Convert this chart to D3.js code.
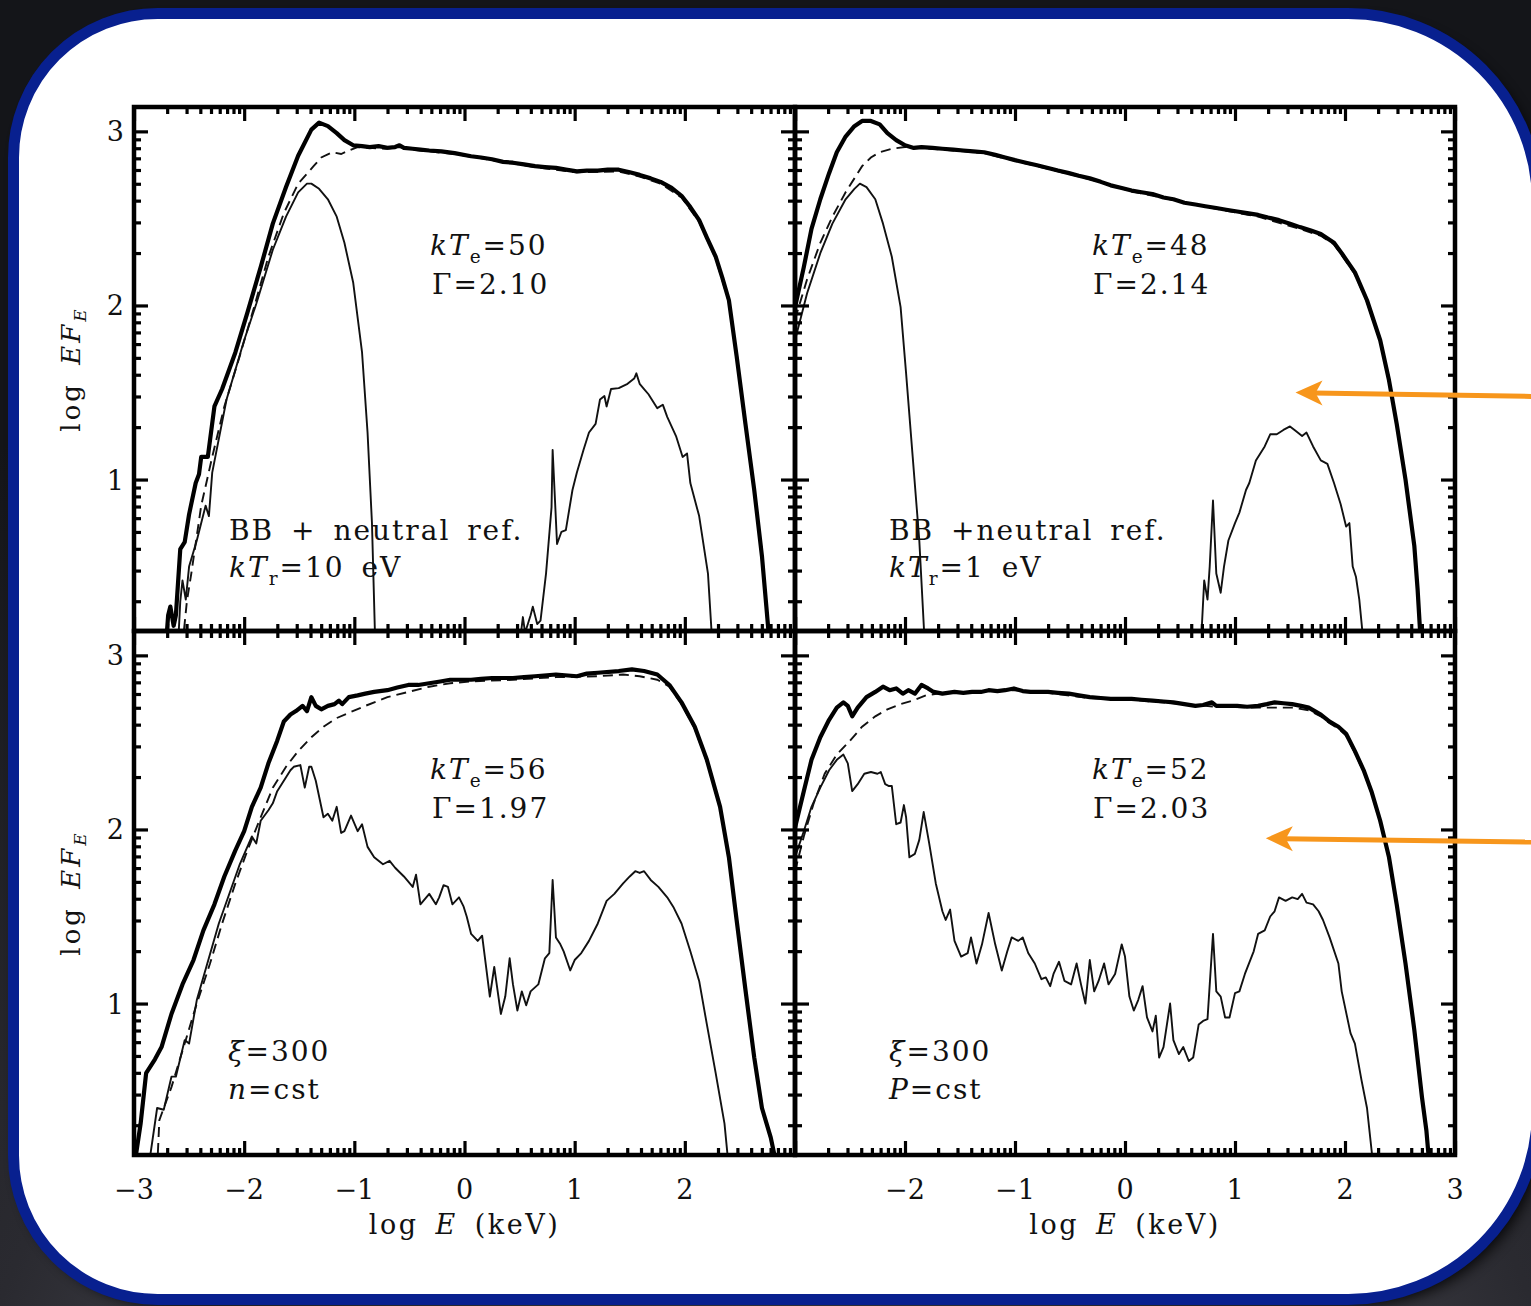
<!DOCTYPE html>
<html>
<head>
<meta charset="utf-8">
<script src="https://d3js.org/d3.v7.min.js"></script>
<style>
  html, body { margin: 0; padding: 0; background: #16171b; }
  svg { display: block; }
  text { font-family: "DejaVu Serif", "Liberation Serif", serif; fill: #111; }
</style>
</head>
<body>
<svg id="chart" width="1531" height="1306"></svg>
<script>
// ---- data: [log E (keV), log EF_E] ----
// top left: BB kTr=10 eV + neutral reflection
const tlTotal = [[-2.71,0.05],[-2.69,0.22],[-2.67,0.27],[-2.64,0.16],[-2.62,0.22],[-2.58,0.60],[-2.54,0.64],[-2.50,0.80],[-2.44,0.98],[-2.41,1.03],[-2.39,1.13],[-2.33,1.13],[-2.27,1.42],[-2.20,1.52],[-2.08,1.73],[-1.97,1.96],[-1.85,2.22],[-1.74,2.47],[-1.62,2.68],[-1.51,2.86],[-1.39,3.01],[-1.32,3.05],[-1.24,3.03],[-1.16,2.99],[-1.09,2.95],[-1.01,2.92],[-0.93,2.915],[-0.86,2.91],[-0.78,2.915],[-0.70,2.906],[-0.63,2.91],[-0.59,2.92],[-0.55,2.905],[-0.47,2.90],[-0.40,2.895],[-0.32,2.89],[-0.21,2.885],[-0.09,2.875],[0.06,2.857],[0.15,2.85],[0.25,2.84],[0.35,2.825],[0.44,2.82],[0.54,2.81],[0.64,2.80],[0.73,2.795],[0.83,2.79],[0.92,2.78],[1.02,2.77],[1.11,2.775],[1.21,2.775],[1.30,2.78],[1.40,2.78],[1.50,2.765],[1.59,2.75],[1.69,2.73],[1.78,2.71],[1.88,2.675],[1.97,2.63],[2.05,2.565],[2.13,2.49],[2.20,2.39],[2.28,2.28],[2.34,2.16],[2.40,2.03],[2.47,1.71],[2.55,1.32],[2.63,0.94],[2.70,0.56],[2.74,0.27],[2.77,0.05]];
const tlCont = [[-2.56,0.05],[-2.52,0.30],[-2.48,0.46],[-2.39,0.85],[-2.29,1.13],[-2.18,1.42],[-2.04,1.71],[-1.91,1.99],[-1.78,2.28],[-1.64,2.53],[-1.51,2.70],[-1.37,2.80],[-1.30,2.85],[-1.20,2.88],[-1.12,2.87],[-1.05,2.89],[-0.97,2.91],[-0.86,2.905],[-0.70,2.90],[-0.59,2.91],[-0.47,2.895],[-0.32,2.885],[-0.09,2.87],[0.25,2.835],[0.64,2.795],[1.02,2.765],[1.40,2.77],[1.59,2.74],[1.78,2.70],[1.97,2.62],[2.13,2.48],[2.28,2.27],[2.40,2.02],[2.47,1.70],[2.55,1.31],[2.63,0.93],[2.70,0.55],[2.74,0.26],[2.76,0.05]];
const tlBB = [[-2.60,0.05],[-2.58,0.30],[-2.56,0.42],[-2.53,0.31],[-2.50,0.50],[-2.43,0.65],[-2.35,0.85],[-2.32,0.79],[-2.29,1.04],[-2.16,1.46],[-2.00,1.80],[-1.89,2.01],[-1.74,2.32],[-1.62,2.51],[-1.51,2.65],[-1.43,2.70],[-1.39,2.70],[-1.32,2.67],[-1.24,2.61],[-1.16,2.51],[-1.09,2.36],[-1.01,2.13],[-0.93,1.73],[-0.88,1.27],[-0.84,0.75],[-0.81,0.05]];
const tlRefl = [[0.50,0.05],[0.53,0.21],[0.55,0.12],[0.60,0.22],[0.62,0.27],[0.66,0.17],[0.69,0.19],[0.74,0.46],[0.79,0.84],[0.80,1.17],[0.84,0.63],[0.88,0.70],[0.92,0.71],[0.98,0.94],[1.02,1.04],[1.08,1.17],[1.13,1.27],[1.19,1.32],[1.23,1.46],[1.27,1.48],[1.29,1.42],[1.33,1.52],[1.40,1.525],[1.48,1.55],[1.54,1.58],[1.56,1.61],[1.59,1.55],[1.63,1.52],[1.67,1.49],[1.75,1.41],[1.80,1.43],[1.84,1.36],[1.92,1.25],[1.98,1.13],[2.02,1.15],[2.05,0.98],[2.13,0.79],[2.21,0.46],[2.25,0.05]];

// top right: BB kTr=1 eV + neutral reflection
const trTotal = [[-3.00,1.99],[-2.92,2.22],[-2.85,2.44],[-2.77,2.61],[-2.69,2.76],[-2.62,2.88],[-2.54,2.97],[-2.46,3.03],[-2.39,3.06],[-2.31,3.06],[-2.23,3.04],[-2.16,2.99],[-2.08,2.95],[-2.00,2.92],[-1.92,2.905],[-1.85,2.91],[-1.75,2.905],[-1.66,2.90],[-1.56,2.895],[-1.47,2.89],[-1.38,2.885],[-1.28,2.88],[-1.18,2.865],[-1.09,2.85],[-1.00,2.835],[-0.90,2.82],[-0.80,2.805],[-0.70,2.79],[-0.61,2.775],[-0.51,2.76],[-0.42,2.745],[-0.32,2.73],[-0.22,2.71],[-0.13,2.69],[-0.03,2.675],[0.06,2.66],[0.15,2.65],[0.25,2.64],[0.35,2.62],[0.44,2.61],[0.54,2.59],[0.64,2.58],[0.73,2.57],[0.83,2.56],[0.92,2.55],[1.02,2.54],[1.11,2.53],[1.21,2.52],[1.30,2.505],[1.40,2.49],[1.50,2.47],[1.59,2.45],[1.69,2.43],[1.78,2.41],[1.90,2.36],[1.97,2.30],[2.09,2.19],[2.20,2.03],[2.32,1.80],[2.40,1.57],[2.47,1.32],[2.55,1.00],[2.63,0.62],[2.66,0.37],[2.69,0.05]];
const trCont = [[-3.00,1.92],[-2.89,2.15],[-2.77,2.36],[-2.66,2.51],[-2.54,2.65],[-2.46,2.73],[-2.39,2.80],[-2.31,2.85],[-2.23,2.88],[-2.12,2.90],[-2.00,2.91],[-1.85,2.905],[-1.66,2.895],[-1.47,2.885],[-1.28,2.875],[-1.09,2.845],[-0.70,2.785],[-0.32,2.725],[0.06,2.655],[0.44,2.605],[0.83,2.555],[1.21,2.51],[1.59,2.44],[1.78,2.40],[1.90,2.35],[1.97,2.29],[2.09,2.18],[2.20,2.02],[2.32,1.79],[2.40,1.56],[2.47,1.31],[2.55,0.99],[2.63,0.61],[2.66,0.36],[2.69,0.05]];
const trBB = [[-3.00,1.80],[-2.89,2.07],[-2.77,2.30],[-2.66,2.47],[-2.54,2.61],[-2.46,2.67],[-2.41,2.70],[-2.35,2.68],[-2.27,2.61],[-2.20,2.47],[-2.12,2.28],[-2.04,1.99],[-1.99,1.61],[-1.93,1.13],[-1.87,0.65],[-1.82,0.05]];
const trRefl = [[0.69,0.05],[0.72,0.42],[0.75,0.31],[0.77,0.50],[0.80,0.88],[0.83,0.46],[0.87,0.35],[0.90,0.50],[0.94,0.65],[1.00,0.75],[1.04,0.81],[1.10,0.94],[1.13,0.98],[1.19,1.11],[1.23,1.15],[1.27,1.19],[1.32,1.26],[1.38,1.26],[1.44,1.285],[1.50,1.305],[1.55,1.28],[1.61,1.25],[1.65,1.27],[1.71,1.19],[1.78,1.11],[1.84,1.09],[1.90,0.98],[1.96,0.86],[2.01,0.73],[2.04,0.75],[2.07,0.50],[2.10,0.44],[2.13,0.31],[2.17,0.05]];

// bottom left: ionised reflection, xi=300, n=cst
const blTotal = [[-2.99,0.05],[-2.98,0.14],[-2.94,0.31],[-2.89,0.60],[-2.81,0.68],[-2.75,0.75],[-2.66,0.94],[-2.56,1.11],[-2.46,1.25],[-2.37,1.42],[-2.27,1.57],[-2.18,1.73],[-2.08,1.88],[-2.00,1.99],[-1.93,2.13],[-1.85,2.24],[-1.78,2.38],[-1.70,2.51],[-1.64,2.62],[-1.58,2.66],[-1.53,2.68],[-1.47,2.71],[-1.43,2.68],[-1.39,2.76],[-1.35,2.71],[-1.30,2.69],[-1.24,2.71],[-1.18,2.72],[-1.14,2.74],[-1.11,2.72],[-1.05,2.76],[-0.97,2.77],[-0.90,2.78],[-0.82,2.79],[-0.70,2.80],[-0.61,2.815],[-0.51,2.83],[-0.42,2.83],[-0.32,2.84],[-0.22,2.85],[-0.13,2.86],[0.06,2.86],[0.15,2.865],[0.25,2.87],[0.44,2.87],[0.54,2.875],[0.64,2.88],[0.83,2.89],[1.02,2.88],[1.11,2.895],[1.21,2.90],[1.40,2.91],[1.52,2.92],[1.63,2.91],[1.75,2.89],[1.86,2.83],[1.97,2.73],[2.09,2.59],[2.20,2.40],[2.32,2.13],[2.40,1.84],[2.47,1.48],[2.55,1.08],[2.63,0.69],[2.70,0.40],[2.78,0.23],[2.84,0.05]];
const blCont = [[-2.79,0.05],[-2.77,0.33],[-2.66,0.52],[-2.54,0.77],[-2.43,1.00],[-2.31,1.23],[-2.20,1.46],[-2.08,1.69],[-1.97,1.88],[-1.85,2.07],[-1.74,2.24],[-1.62,2.36],[-1.51,2.45],[-1.39,2.53],[-1.28,2.59],[-1.16,2.64],[-1.05,2.67],[-0.90,2.71],[-0.70,2.76],[-0.51,2.79],[-0.32,2.82],[-0.13,2.84],[0.06,2.85],[0.44,2.86],[0.83,2.875],[1.21,2.88],[1.44,2.89],[1.59,2.88],[1.75,2.86],[1.86,2.82],[1.97,2.72],[2.09,2.58],[2.20,2.39],[2.32,2.12],[2.40,1.83],[2.47,1.47],[2.55,1.07],[2.63,0.68],[2.70,0.39],[2.78,0.22],[2.84,0.05]];
const blRefl = [[-2.87,0.05],[-2.79,0.40],[-2.73,0.39],[-2.66,0.58],[-2.62,0.58],[-2.54,0.79],[-2.50,0.77],[-2.43,1.02],[-2.23,1.46],[-2.04,1.80],[-1.93,1.96],[-1.89,1.92],[-1.85,2.05],[-1.78,2.11],[-1.74,2.15],[-1.70,2.22],[-1.62,2.30],[-1.58,2.34],[-1.55,2.36],[-1.49,2.37],[-1.45,2.24],[-1.41,2.36],[-1.39,2.36],[-1.35,2.28],[-1.28,2.07],[-1.24,2.09],[-1.20,2.05],[-1.16,2.13],[-1.12,1.98],[-1.09,1.99],[-1.03,2.08],[-0.97,1.99],[-0.93,2.03],[-0.88,1.90],[-0.82,1.84],[-0.74,1.80],[-0.68,1.82],[-0.63,1.78],[-0.55,1.73],[-0.47,1.67],[-0.44,1.74],[-0.40,1.57],[-0.32,1.63],[-0.26,1.57],[-0.23,1.61],[-0.19,1.68],[-0.15,1.67],[-0.11,1.57],[-0.05,1.61],[-0.01,1.56],[0.02,1.50],[0.06,1.40],[0.12,1.36],[0.16,1.39],[0.20,1.19],[0.23,1.04],[0.27,1.21],[0.33,0.94],[0.37,1.04],[0.41,1.26],[0.44,1.11],[0.48,0.96],[0.52,1.07],[0.56,0.99],[0.60,1.07],[0.67,1.11],[0.73,1.26],[0.77,1.29],[0.80,1.71],[0.83,1.38],[0.87,1.34],[0.90,1.30],[0.96,1.19],[1.00,1.25],[1.06,1.29],[1.13,1.36],[1.21,1.46],[1.29,1.59],[1.36,1.63],[1.44,1.69],[1.50,1.73],[1.55,1.76],[1.59,1.75],[1.63,1.76],[1.69,1.71],[1.76,1.67],[1.84,1.61],[1.90,1.55],[1.97,1.46],[2.05,1.30],[2.13,1.13],[2.20,0.88],[2.28,0.60],[2.36,0.31],[2.40,0.05]];

// bottom right: ionised reflection, xi=300, P=cst
const brTotal = [[-3.00,2.01],[-2.92,2.22],[-2.85,2.40],[-2.77,2.53],[-2.69,2.63],[-2.62,2.70],[-2.56,2.73],[-2.52,2.71],[-2.48,2.65],[-2.43,2.70],[-2.35,2.76],[-2.27,2.79],[-2.20,2.82],[-2.14,2.80],[-2.08,2.81],[-2.02,2.78],[-1.97,2.80],[-1.91,2.78],[-1.85,2.83],[-1.79,2.81],[-1.74,2.79],[-1.66,2.78],[-1.55,2.79],[-1.47,2.785],[-1.39,2.79],[-1.31,2.79],[-1.24,2.80],[-1.16,2.795],[-1.09,2.80],[-1.01,2.81],[-0.93,2.795],[-0.86,2.79],[-0.78,2.79],[-0.70,2.79],[-0.61,2.785],[-0.51,2.78],[-0.42,2.77],[-0.32,2.76],[-0.22,2.755],[-0.13,2.75],[-0.03,2.75],[0.06,2.75],[0.15,2.745],[0.25,2.74],[0.35,2.735],[0.44,2.73],[0.54,2.72],[0.64,2.71],[0.71,2.715],[0.79,2.73],[0.83,2.71],[0.92,2.71],[1.02,2.71],[1.11,2.705],[1.21,2.71],[1.29,2.72],[1.36,2.73],[1.44,2.725],[1.52,2.72],[1.60,2.71],[1.67,2.70],[1.78,2.66],[1.86,2.62],[1.94,2.59],[2.01,2.55],[2.09,2.45],[2.17,2.34],[2.24,2.22],[2.32,2.05],[2.40,1.84],[2.47,1.57],[2.55,1.23],[2.63,0.85],[2.70,0.46],[2.74,0.27],[2.77,0.05]];
const brCont = [[-3.00,1.76],[-2.92,1.96],[-2.83,2.15],[-2.73,2.32],[-2.62,2.43],[-2.50,2.51],[-2.39,2.59],[-2.27,2.65],[-2.16,2.69],[-2.04,2.72],[-1.93,2.74],[-1.81,2.77],[-1.70,2.78],[-1.55,2.785],[-1.39,2.785],[-1.24,2.795],[-1.01,2.80],[-0.70,2.785],[-0.32,2.755],[0.06,2.745],[0.44,2.725],[0.83,2.705],[1.21,2.70],[1.52,2.70],[1.67,2.685],[1.78,2.65],[1.86,2.61],[1.94,2.58],[2.01,2.54],[2.09,2.44],[2.17,2.33],[2.24,2.21],[2.32,2.04],[2.40,1.83],[2.47,1.56],[2.55,1.22],[2.63,0.84],[2.70,0.45],[2.74,0.26],[2.77,0.05]];
const brRefl = [[-3.00,1.84],[-2.92,1.99],[-2.85,2.13],[-2.77,2.24],[-2.69,2.34],[-2.62,2.40],[-2.56,2.43],[-2.52,2.38],[-2.48,2.22],[-2.43,2.26],[-2.37,2.32],[-2.31,2.33],[-2.25,2.32],[-2.22,2.33],[-2.18,2.26],[-2.15,2.25],[-2.12,2.25],[-2.08,2.03],[-2.04,2.04],[-2.01,2.14],[-1.99,2.07],[-1.96,1.84],[-1.91,1.86],[-1.87,1.94],[-1.83,2.10],[-1.78,1.92],[-1.72,1.69],[-1.66,1.53],[-1.63,1.48],[-1.59,1.54],[-1.55,1.36],[-1.49,1.27],[-1.43,1.29],[-1.40,1.38],[-1.35,1.23],[-1.30,1.34],[-1.24,1.52],[-1.18,1.34],[-1.12,1.19],[-1.07,1.30],[-1.03,1.38],[-0.97,1.36],[-0.93,1.38],[-0.88,1.29],[-0.82,1.23],[-0.76,1.14],[-0.72,1.15],[-0.68,1.10],[-0.65,1.17],[-0.60,1.24],[-0.55,1.13],[-0.49,1.11],[-0.44,1.23],[-0.40,1.11],[-0.36,1.00],[-0.32,1.25],[-0.28,1.07],[-0.24,1.13],[-0.19,1.23],[-0.15,1.11],[-0.09,1.17],[-0.03,1.34],[0.00,1.27],[0.04,1.04],[0.08,0.96],[0.12,1.02],[0.16,1.10],[0.20,0.92],[0.25,0.84],[0.28,0.93],[0.31,0.69],[0.35,0.75],[0.41,1.00],[0.44,0.79],[0.49,0.71],[0.53,0.75],[0.58,0.67],[0.62,0.69],[0.67,0.88],[0.71,0.90],[0.75,0.91],[0.80,1.40],[0.83,1.07],[0.87,1.04],[0.91,0.92],[0.95,0.92],[1.00,1.06],[1.04,1.07],[1.09,1.17],[1.17,1.30],[1.21,1.40],[1.27,1.42],[1.32,1.50],[1.36,1.53],[1.40,1.61],[1.46,1.59],[1.52,1.61],[1.57,1.60],[1.61,1.63],[1.65,1.58],[1.71,1.57],[1.76,1.53],[1.80,1.48],[1.86,1.38],[1.94,1.23],[1.97,1.07],[2.05,0.83],[2.09,0.77],[2.15,0.56],[2.20,0.40],[2.26,0.05]];

// axes
const xDomain = [-3, 3];
const yDomain = [0.13, 3.14];
const xMajor = [-3, -2, -1, 0, 1, 2, 3];
const yMajor = [1, 2, 3];
const xLabelsLeft = [-3, -2, -1, 0, 1, 2];
const xLabelsRight = [-2, -1, 0, 1, 2, 3];
const yLabels = [1, 2, 3];

// annotation lines per panel: [dx, dy, parts]; part = [text, style]
const notesTL = [[296,148,[["k","i"],["T","i"],["e","sub"],["=50"]]],[298,187,[["\u0393=2.10"]]],
                 [95,433,[["BB + neutral ref."]]],[95,470,[["k","i"],["T","i"],["r","sub"],["=10 eV"]]]];
const notesTR = [[297,148,[["k","i"],["T","i"],["e","sub"],["=48"]]],[298,187,[["\u0393=2.14"]]],
                 [94,433,[["BB +neutral ref."]]],[94,470,[["k","i"],["T","i"],["r","sub"],["=1 eV"]]]];
const notesBL = [[296,148,[["k","i"],["T","i"],["e","sub"],["=56"]]],[298,187,[["\u0393=1.97"]]],
                 [94,430,[["\u03be","i"],["=300"]]],[94,468,[["n","i"],["=cst"]]]];
const notesBR = [[297,148,[["k","i"],["T","i"],["e","sub"],["=52"]]],[298,187,[["\u0393=2.03"]]],
                 [94,430,[["\u03be","i"],["=300"]]],[94,468,[["P","i"],["=cst"]]]];

const svg = d3.select("#chart");
const defs = svg.append("defs");

// --- backdrop & card ---
const bg = defs.append("radialGradient").attr("id", "bg")
  .attr("cx", "0.5").attr("cy", "1.15").attr("r", "0.95");
bg.append("stop").attr("offset", "0").attr("stop-color", "#6a6a76");
bg.append("stop").attr("offset", "0.55").attr("stop-color", "#2a2a30");
bg.append("stop").attr("offset", "1").attr("stop-color", "#141519");
svg.append("rect").attr("width", 1531).attr("height", 1306).attr("fill", "url(#bg)");

// card outline: small corners on the left, wider ones on the right (cut by the frame)
function cardPath(l, t, r, b, rl, rr) {
  const p = d3.path();
  p.moveTo(l + rl, t);
  p.lineTo(r - rr, t);
  p.arcTo(r, t, r, t + rr, rr);
  p.lineTo(r, b - rr);
  p.arcTo(r, b, r - rr, b, rr);
  p.lineTo(l + rl, b);
  p.arcTo(l, b, l, b - rl, rl);
  p.lineTo(l, t + rl);
  p.arcTo(l, t, l + rl, t, rl);
  p.closePath();
  return p.toString();
}
const blur = defs.append("filter").attr("id", "shadow").attr("x", "-5%").attr("y", "-5%")
  .attr("width", "110%").attr("height", "110%");
blur.append("feGaussianBlur").attr("stdDeviation", 7);
svg.append("path").attr("d", cardPath(18, 20, 1545, 1306, 150, 190))
  .attr("fill", "#000").attr("opacity", 0.85).attr("filter", "url(#shadow)");
svg.append("path").attr("d", cardPath(13.5, 13.5, 1537.5, 1299.5, 144, 189))
  .attr("fill", "#fff").attr("stroke", "#08208f").attr("stroke-width", 11);

// --- panels ---
const panels = [
  {x0: 134, y0: 107, w: 661, h: 524, total: tlTotal, cont: tlCont, thin: [tlBB, tlRefl], notes: notesTL, yl: true},
  {x0: 795, y0: 107, w: 660, h: 524, total: trTotal, cont: trCont, thin: [trBB, trRefl], notes: notesTR},
  {x0: 134, y0: 631, w: 661, h: 524, total: blTotal, cont: blCont, thin: [blRefl], notes: notesBL, yl: true, xl: xLabelsLeft},
  {x0: 795, y0: 631, w: 660, h: 524, total: brTotal, cont: brCont, thin: [brRefl], notes: notesBR, xl: xLabelsRight}
];

const xMinor = [];
for (let d = -3; d < 3; d++) for (let k = 2; k <= 9; k++) xMinor.push(d + Math.log10(k));
const yMinor = [];
for (let d = 0; d < 3; d++) for (let k = 2; k <= 9; k++) {
  const v = d + Math.log10(k);
  if (v > yDomain[0] && v < yDomain[1]) yMinor.push(v);
}

function addText(g, x, y, parts, size) {
  const t = g.append("text").attr("x", x).attr("y", y).attr("font-size", size)
    .attr("letter-spacing", 2).attr("word-spacing", 6).style("white-space", "pre");
  let shift = 0;
  parts.forEach(p => {
    const s = t.append("tspan").text(p[0]);
    if (p[1] === "i") s.attr("font-style", "italic");
    if (p[1] === "sub") {
      s.attr("font-size", size * 0.66).attr("dy", size * 0.3 - shift);
      shift = size * 0.3;
    } else if (shift) {
      s.attr("dy", -shift);
      shift = 0;
    }
  });
  return t;
}

panels.forEach((p, i) => {
  const g = svg.append("g").attr("transform", `translate(${p.x0},${p.y0})`);
  const x = d3.scaleLinear().domain(xDomain).range([0, p.w]);
  const y = d3.scaleLinear().domain(yDomain).range([p.h, 0]);

  defs.append("clipPath").attr("id", "clip" + i)
    .append("rect").attr("width", p.w).attr("height", p.h);

  const line = d3.line().x(d => x(d[0])).y(d => y(d[1]));
  const plot = g.append("g").attr("clip-path", `url(#clip${i})`);

  p.thin.forEach(s => plot.append("path").attr("d", line(s)).attr("fill", "none")
    .attr("stroke", "#111").attr("stroke-width", 1.9).attr("stroke-linejoin", "round"));
  plot.append("path").attr("d", line(p.cont)).attr("fill", "none")
    .attr("stroke", "#111").attr("stroke-width", 1.9).attr("stroke-dasharray", "10,6");
  plot.append("path").attr("d", line(p.total)).attr("fill", "none")
    .attr("stroke", "#000").attr("stroke-width", 4.2).attr("stroke-linejoin", "round");

  // inward ticks on all four sides
  const sides = [
    [d3.axisBottom(x), `translate(0,${p.h})`, xMajor, xMinor],
    [d3.axisTop(x), "translate(0,0)", xMajor, xMinor],
    [d3.axisLeft(y), "translate(0,0)", yMajor, yMinor],
    [d3.axisRight(y), `translate(${p.w},0)`, yMajor, yMinor]
  ];
  sides.forEach(([ax, tr, major, minor]) => {
    [[major, 14], [minor, 7]].forEach(([vals, len]) => {
      const a = g.append("g").attr("transform", tr).attr("color", "#000")
        .call(ax.tickValues(vals).tickSize(-len).tickSizeOuter(0).tickFormat(""));
      a.select(".domain").remove();
      a.selectAll("line").attr("stroke-width", 3.2);
    });
  });

  g.append("rect").attr("width", p.w).attr("height", p.h)
    .attr("fill", "none").attr("stroke", "#000").attr("stroke-width", 4.5);

  p.notes.forEach(n => addText(g, n[0], n[1], n[2], 28));

  if (p.yl) {
    yLabels.forEach(v => g.append("text").attr("x", -10).attr("y", y(v) + 10)
      .attr("text-anchor", "end").attr("font-size", 27).text(v));
    const yt = g.append("text").attr("transform", `translate(-54,${p.h / 2}) rotate(-90)`)
      .attr("text-anchor", "middle").attr("font-size", 26)
      .attr("letter-spacing", 3).attr("word-spacing", 6).style("white-space", "pre");
    yt.append("tspan").text("log ");
    yt.append("tspan").attr("font-style", "italic").text("EF");
    yt.append("tspan").attr("font-style", "italic").attr("font-size", 17).attr("dy", 6).text("E");
  }
  if (p.xl) {
    p.xl.forEach(v => g.append("text").attr("x", x(v)).attr("y", p.h + 44)
      .attr("text-anchor", "middle").attr("font-size", 27)
      .text(v < 0 ? "\u2212" + Math.abs(v) : v));
    const xt = g.append("text").attr("x", p.w / 2).attr("y", p.h + 79)
      .attr("text-anchor", "middle").attr("font-size", 27)
      .attr("letter-spacing", 2.5).attr("word-spacing", 6).style("white-space", "pre");
    xt.append("tspan").text("log ");
    xt.append("tspan").attr("font-style", "italic").text("E");
    xt.append("tspan").text(" (keV)");
  }

  // orange pointers on the right-hand panels
  if (i === 1 || i === 3) {
    const tip = i === 1 ? [1.55, 1.50] : [1.28, 1.95];
    const tx = x(tip[0]), ty = y(tip[1]);
    const endX = 1531 - p.x0 + 5, endY = ty + 4;
    g.append("line").attr("x1", tx + 18).attr("y1", ty + 0.5).attr("x2", endX).attr("y2", endY)
      .attr("stroke", "#f7961c").attr("stroke-width", 5);
    g.append("path")
      .attr("d", `M${tx},${ty} L${tx + 27},${ty - 12} L${tx + 20},${ty + 0.5} L${tx + 27},${ty + 13} Z`)
      .attr("fill", "#f7961c");
  }
});
</script>
</body>
</html>
